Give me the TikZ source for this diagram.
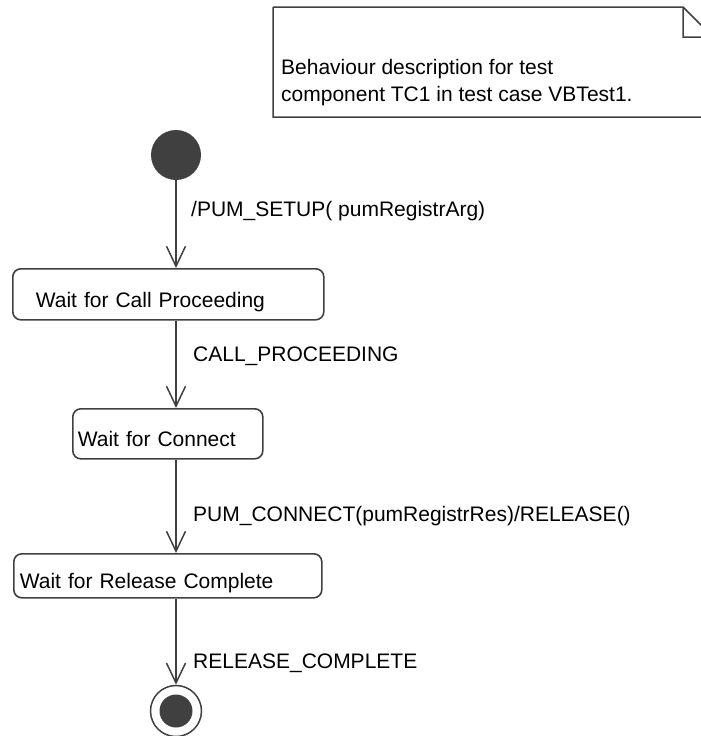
\documentclass[tikz,border=0pt]{standalone}
\usepackage{fontspec}
\setmainfont{Liberation Sans}
\usetikzlibrary{arrows.meta}
\definecolor{ln}{HTML}{404040}
\begin{document}
\begin{tikzpicture}[x=1pt,y=-1pt,
  every node/.style={font=\fontsize{21}{25}\selectfont, text=black},
  statebox/.style={draw=ln, line width=1.6pt, rounded corners=8pt, anchor=north west, inner ysep=0pt, align=left},
  lbl/.style={anchor=base west, inner sep=0pt},
  trans/.style={draw=ln, line width=1.5pt, -{Straight Barb[length=20pt,width=19pt,line width=1.5pt]}},
  dot/.style={circle, fill=ln, inner sep=0pt}
]
\useasboundingbox (0,0) rectangle (701,736);
\begin{scope}
\clip (0,0) rectangle (701,736);
% note
\draw[ln, line width=1.5pt] (273,7) -- (683,7) -- (713,37) (683,7) -- (683,37) -- (713,37) (273,7) -- (273,117) -- (713,117);
\end{scope}
\node[anchor=base west, inner sep=0pt, align=left] (note) at (281,74) {Behaviour description for test};
\node[anchor=base west, inner sep=0pt, align=left] (note2) at (281,101) {component TC1 in test case VBTest1.};

% initial
\node[dot, minimum size=50pt] (init) at (176,155) {};

% states
\node[statebox, minimum width=311pt, text height=38.5pt, text depth=12.5pt, inner xsep=23pt, text width=265pt] (s1) at (12,268) {Wait for Call Proceeding};
\node[statebox, minimum width=190pt, text height=38pt, text depth=12pt, inner xsep=5pt, text width=180pt] (s2) at (72,408) {Wait for Connect};
\node[statebox, minimum width=308pt, text height=35pt, text depth=9pt, inner xsep=6pt, text width=296pt] (s3) at (13,553) {Wait for Release Complete};

% final
\node[circle, draw=ln, line width=1.5pt, minimum size=51pt, inner sep=0pt] (fin) at (176,711) {};
\node[dot, minimum size=33pt] (finin) at (fin.center) {};

% transitions
\draw[trans] (init) -- (init |- s1.north);
\draw[trans] (init |- s1.south) -- (init |- s2.north);
\draw[trans] (init |- s2.south) -- (init |- s3.north);
\draw[trans] (init |- s3.south) -- (fin.north);

% labels
\node[lbl] (t1) at (191,216) {/PUM\_SETUP( pumRegistrArg)};
\node[lbl] (t2) at (193,361) {CALL\_PROCEEDING};
\node[lbl] (t3) at (193,521) {PUM\_CONNECT(pumRegistrRes)/RELEASE()};
\node[lbl] (t4) at (193,668) {RELEASE\_COMPLETE};
\end{tikzpicture}
\end{document}
